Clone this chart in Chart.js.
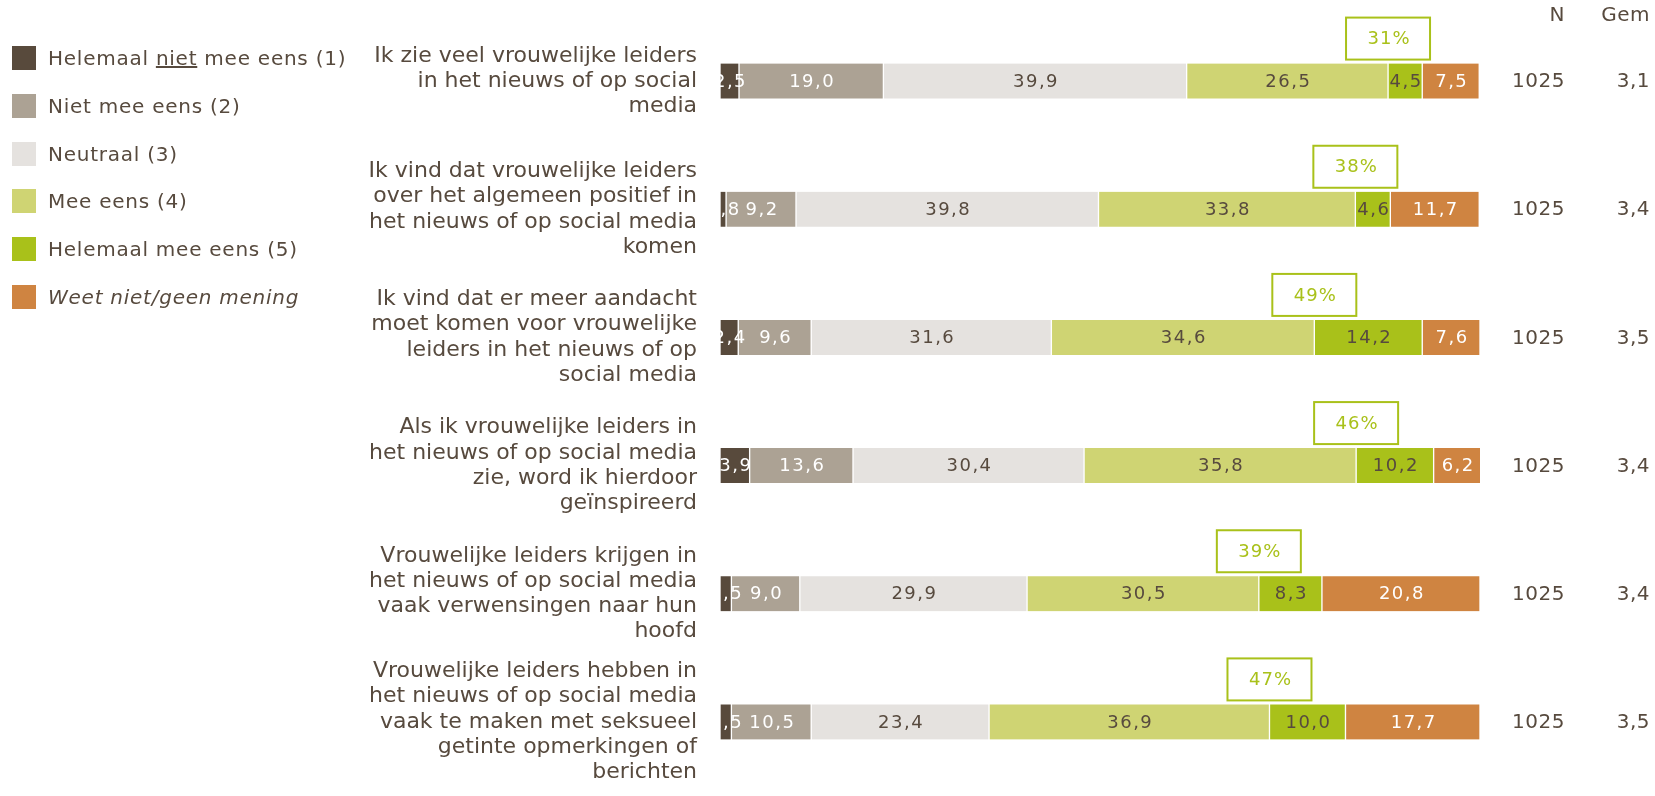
<!DOCTYPE html>
<html lang="nl">
<head>
<meta charset="utf-8">
<title>Vrouwelijke leiders in het nieuws</title>
<script src="https://cdn.jsdelivr.net/npm/chart.js@4/dist/chart.umd.min.js"></script>
<style>
  body { margin: 0; background: #fff; font-family: "DejaVu Sans", Verdana, sans-serif; color: #574a3e; }
  #wrap { position: relative; width: 1655px; height: 796px; }
  #legenda { position: absolute; left: 12px; top: 46px; }
  .item { height: 47.8px; display: flex; align-items: flex-start; font-size: 20px; letter-spacing: 0.75px; }
  .blok { width: 24px; height: 24px; margin-right: 12px; flex: none; }
  .item span { line-height: 24px; }
</style>
</head>
<body>
<div id="wrap">
  <canvas id="grafiek"></canvas>
  <div id="legenda">
    <div class="item"><div class="blok" style="background:#584a3c"></div><span>Helemaal <u>niet</u> mee eens (1)</span></div>
    <div class="item"><div class="blok" style="background:#aca294"></div><span>Niet mee eens (2)</span></div>
    <div class="item"><div class="blok" style="background:#e5e2df"></div><span>Neutraal (3)</span></div>
    <div class="item"><div class="blok" style="background:#cfd473"></div><span>Mee eens (4)</span></div>
    <div class="item"><div class="blok" style="background:#a9c11a"></div><span>Helemaal mee eens (5)</span></div>
    <div class="item"><div class="blok" style="background:#cf8441"></div><span><i>Weet niet/geen mening</i></span></div>
  </div>
</div>
<script>
// Stellingen (y-as)
const stellingen = [
  ['Ik zie veel vrouwelijke leiders', 'in het nieuws of op social', 'media'],
  ['Ik vind dat vrouwelijke leiders', 'over het algemeen positief in', 'het nieuws of op social media', 'komen'],
  ['Ik vind dat er meer aandacht', 'moet komen voor vrouwelijke', 'leiders in het nieuws of op', 'social media'],
  ['Als ik vrouwelijke leiders in', 'het nieuws of op social media', 'zie, word ik hierdoor', 'geïnspireerd'],
  ['Vrouwelijke leiders krijgen in', 'het nieuws of op social media', 'vaak verwensingen naar hun', 'hoofd'],
  ['Vrouwelijke leiders hebben in', 'het nieuws of op social media', 'vaak te maken met seksueel', 'getinte opmerkingen of', 'berichten']
];

// Percentages per antwoordcategorie
const helemaalNiet = [2.5, 0.8, 2.4, 3.9, 1.5, 1.5];
const nietMeeEens = [19.0, 9.2, 9.6, 13.6, 9.0, 10.5];
const neutraal = [39.9, 39.8, 31.6, 30.4, 29.9, 23.4];
const meeEens = [26.5, 33.8, 34.6, 35.8, 30.5, 36.9];
const helemaalMee = [4.5, 4.6, 14.2, 10.2, 8.3, 10.0];
const weetNiet = [7.5, 11.7, 7.6, 6.2, 20.8, 17.7];

// Samenvattingen
const eensTotaal = [31, 38, 49, 46, 39, 47];
const aantalN = [1025, 1025, 1025, 1025, 1025, 1025];
const gemiddelde = [3.1, 3.4, 3.5, 3.4, 3.4, 3.5];

const tekstKleur = '#574a3e';
const groen = '#a9c11a';
const lettertype = '"DejaVu Sans", Verdana, sans-serif';

const reeksen = [
  { label: 'Helemaal niet mee eens (1)', data: helemaalNiet, kleur: '#584a3c', tekst: '#ffffff' },
  { label: 'Niet mee eens (2)', data: nietMeeEens, kleur: '#aca294', tekst: '#ffffff' },
  { label: 'Neutraal (3)', data: neutraal, kleur: '#e5e2df', tekst: tekstKleur },
  { label: 'Mee eens (4)', data: meeEens, kleur: '#cfd473', tekst: tekstKleur },
  { label: 'Helemaal mee eens (5)', data: helemaalMee, kleur: groen, tekst: tekstKleur },
  { label: 'Weet niet/geen mening', data: weetNiet, kleur: '#cf8441', tekst: '#ffffff' }
];

const komma = v => v.toFixed(1).replace('.', ',');

// Waarden in de balken, kaders met % eens, en kolommen N / Gem
const labelsPlugin = {
  id: 'labels',
  afterDatasetsDraw(chart) {
    const ctx = chart.ctx;
    const area = chart.chartArea;
    ctx.save();
    ctx.font = '18px ' + lettertype;
    ctx.letterSpacing = '1.5px';
    ctx.textBaseline = 'middle';
    ctx.textAlign = 'center';

    chart.data.datasets.forEach((ds, i) => {
      chart.getDatasetMeta(i).data.forEach((bar, j) => {
        ctx.fillStyle = reeksen[i].tekst;
        const midden = (bar.x + bar.base) / 2;
        ctx.fillText(komma(ds.data[j]), midden + 1, bar.y + 1);
      });
    });

    // kaders boven de grens tussen 'Mee eens' en 'Helemaal mee eens'
    ctx.letterSpacing = '1px';
    chart.getDatasetMeta(3).data.forEach((bar, j) => {
      const bx = bar.x;
      const top = bar.y - bar.height / 2;
      ctx.fillStyle = '#ffffff';
      ctx.fillRect(bx - 42, top - 46, 84, 42);
      ctx.strokeStyle = groen;
      ctx.lineWidth = 2;
      ctx.strokeRect(bx - 42, top - 46, 84, 42);
      ctx.fillStyle = groen;
      ctx.fillText(eensTotaal[j] + '%', bx + 1, top - 24);
    });

    // kolommen rechts
    ctx.font = '20px ' + lettertype;
    ctx.letterSpacing = '0.5px';
    ctx.textAlign = 'right';
    ctx.fillStyle = tekstKleur;
    ctx.fillText('N', area.right + 85, 16);
    ctx.fillText('Gem', area.right + 170, 16);
    chart.getDatasetMeta(0).data.forEach((bar, j) => {
      ctx.fillText(String(aantalN[j]), area.right + 85, bar.y + 1);
      ctx.fillText(komma(gemiddelde[j]), area.right + 170, bar.y + 1);
    });
    ctx.restore();
  }
};

const canvas = document.getElementById('grafiek');

new Chart(canvas, {
  type: 'bar',
  data: {
    labels: stellingen,
    datasets: reeksen.map(r => ({
      label: r.label,
      data: r.data,
      backgroundColor: r.kleur,
      borderColor: '#ffffff',
      borderWidth: { left: 1, right: 1, top: 0, bottom: 0 },
      borderSkipped: false,
      barThickness: 35
    }))
  },
  options: {
    indexAxis: 'y',
    responsive: true,
    maintainAspectRatio: false,
    animation: false,
    layout: { padding: { top: 17, right: 175, bottom: 10, left: 0 } },
    plugins: {
      legend: { display: false },
      tooltip: { enabled: false }
    },
    scales: {
      x: {
        stacked: true,
        min: 0,
        max: 100,
        display: false
      },
      y: {
        stacked: true,
        grid: { display: false, drawTicks: false },
        border: { display: false },
        ticks: {
          autoSkip: false,
          padding: 23,
          color: tekstKleur,
          font: { family: lettertype, size: 22, lineHeight: 1.15 }
        },
        afterFit(scale) {
          scale.width = 720;
          scale.paddingTop = 0;
          scale.paddingBottom = 0;
        }
      }
    }
  },
  plugins: [labelsPlugin]
});
</script>
</body>
</html>
